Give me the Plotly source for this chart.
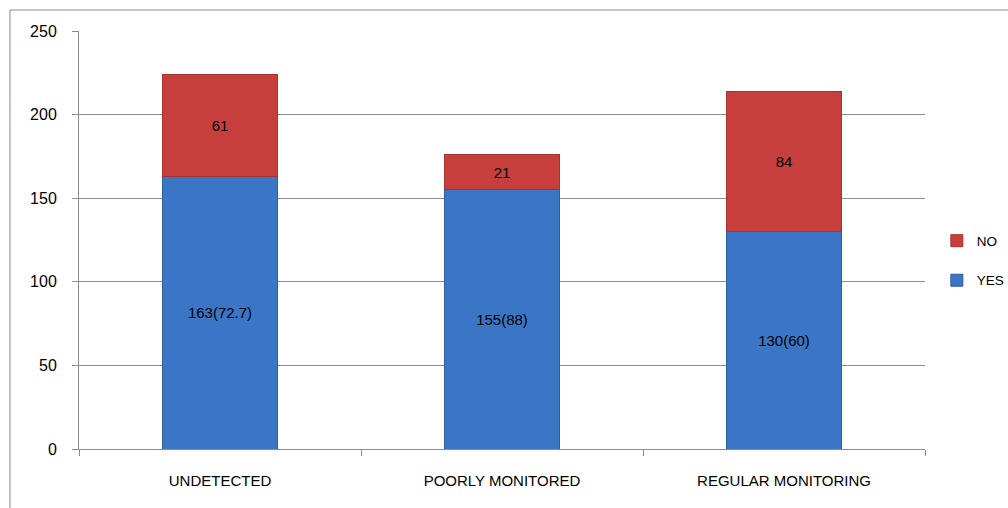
import plotly.graph_objects as go

categories = ["UNDETECTED", "POORLY MONITORED", "REGULAR MONITORING"]
yes_values = [163, 155, 130]
no_values = [61, 21, 84]
yes_labels = ["163(72.7)", "155(88)", "130(60)"]
no_labels = ["61", "21", "84"]

FONT = "Liberation Sans, Arial, sans-serif"

fig = go.Figure()
fig.add_trace(go.Bar(
    x=categories, y=yes_values, name="YES", text=yes_labels,
    textposition="inside", insidetextanchor="middle",
    textfont=dict(color="#000000", size=15, family=FONT),
    marker=dict(color="#3B76C6", line=dict(color="#2E5E9E", width=1)),
    legendgroup="yes", legendrank=2,
))
fig.add_trace(go.Bar(
    x=categories, y=no_values, name="NO", text=no_labels,
    textposition="inside", insidetextanchor="middle",
    textfont=dict(color="#000000", size=15, family=FONT),
    marker=dict(color="#C73F3D", line=dict(color="#A83230", width=1)),
    legendgroup="no", legendrank=1,
))

fig.update_layout(
    width=1008, height=508,
    barmode="stack", bargap=0.595,
    paper_bgcolor="white", plot_bgcolor="white",
    margin=dict(l=79, r=83, t=31, b=59, autoexpand=False),
    font=dict(family=FONT, size=15, color="#000000"),
    showlegend=True,
    legend=dict(
        x=1.014, y=0.45, xanchor="left", yanchor="middle",
        traceorder="grouped", tracegroupgap=19,
        font=dict(size=13.5, family=FONT, color="#000000"),
        itemwidth=30, bgcolor="rgba(0,0,0,0)",
    ),
    uniformtext=dict(mode=False),
)
fig.update_yaxes(
    range=[0, 250], dtick=50, showgrid=True, gridcolor="#8C8C8C", gridwidth=1,
    showline=True, linecolor="#8C8C8C", linewidth=1,
    ticks="outside", ticklen=6, tickcolor="#8C8C8C",
    tickfont=dict(size=16, family=FONT, color="#000000"),
    ticklabelstandoff=12,
    zeroline=False,
)
fig.update_xaxes(
    showline=True, linecolor="#8C8C8C", linewidth=1,
    ticks="outside", ticklen=6, tickcolor="#8C8C8C", tickson="boundaries",
    tickfont=dict(size=15, family=FONT, color="#000000"),
    ticklabelstandoff=18,
    showgrid=False,
)
fig.add_shape(
    type="rect", xref="paper", yref="paper",
    x0=-0.0816, x1=1.15, y0=-0.2, y1=1.0502,
    line=dict(color="#8C8C8C", width=1), fillcolor="rgba(0,0,0,0)", layer="below",
)

fig.write_html("out.html")
